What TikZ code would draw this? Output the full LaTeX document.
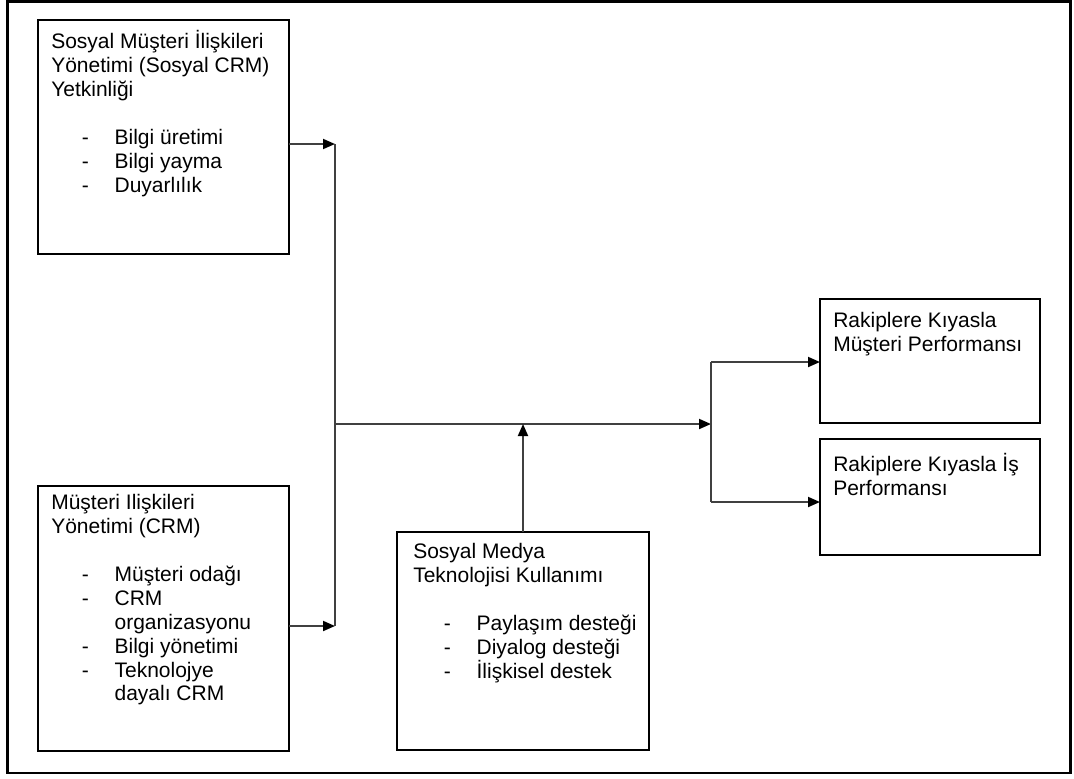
\documentclass[tikz,border=0pt]{standalone}
\usepackage{fontspec}
\setmainfont{Liberation Sans}
\usetikzlibrary{arrows.meta}
% list lines inside the boxes: a dash, then the item text
\newcommand\dashitem[1]{\hspace*{23pt}\makebox[24.5pt][l]{-}#1}
\newcommand\contline[1]{\hspace*{47.5pt}#1}

\begin{document}
\begin{tikzpicture}[x=0.75pt,y=-0.75pt,
  box/.style={draw=black,line width=0.9pt,anchor=north west,inner sep=0pt,outer sep=0pt},
  label/.style={anchor=north west,inner sep=0pt,align=left,
    font=\fontsize{15.75}{17.9}\selectfont},
  link/.style={draw=black!75,line width=1.4pt},
  arr/.style={link,-{Triangle[length=9pt,width=7.5pt,fill=black,color=black]}}]
\useasboundingbox (0,0) rectangle (1074,778);

% outer frame
\draw[line width=1.9pt] (7.5,1.5) rectangle (1070.5,773);

% boxes
\node[box,minimum width=188.25pt,minimum height=175.5pt] (A) at (38,20) {};
\node[box,minimum width=188.25pt,minimum height=198.75pt] (B) at (38,486) {};
\node[box,minimum width=189pt,minimum height=163.5pt] (C) at (397,532) {};
\node[box,minimum width=165pt,minimum height=93pt] (D) at (820,299) {};
\node[box,minimum width=165pt,minimum height=87pt] (E) at (820,439) {};

% box texts
\node[label] (tA) at (51,30.5) {\strut Sosyal Müşteri İlişkileri\\
  Yönetimi (Sosyal CRM)\\
  Yetkinliği\\[17.9pt]
  \dashitem{Bilgi üretimi}\\
  \dashitem{Bilgi yayma}\\
  \dashitem{Duyarlılık}};
\node[label] (tB) at (51,493) {\strut Müşteri Ilişkileri\\
  Yönetimi (CRM)\\[17.9pt]
  \dashitem{Müşteri odağı}\\
  \dashitem{CRM}\\
  \contline{organizasyonu}\\
  \dashitem{Bilgi yönetimi}\\
  \dashitem{Teknolojye}\\
  \contline{dayalı CRM}};
\node[label] (tC) at (413,541.7) {\strut Sosyal Medya\\
  Teknolojisi Kullanımı\\[17.9pt]
  \dashitem{Paylaşım desteği}\\
  \dashitem{Diyalog desteği}\\
  \dashitem{İlişkisel destek}};
\node[label] (tD) at (833,310.7) {\strut Rakiplere Kıyasla\\Müşteri Performansı};
\node[label] (tE) at (833,453) {\strut Rakiplere Kıyasla İş\\Performansı};

% junction points
\coordinate (j1) at (335,144);
\coordinate (j2) at (335,626);
\coordinate (m) at (335,424);
\coordinate (s) at (711,424);
\coordinate (s1) at (711,362);
\coordinate (s2) at (711,502);

% connectors
\draw[arr] (A.east |- j1) -- (j1);
\draw[arr] (B.east |- j2) -- (j2);
\draw[link] (j1) -- (j2);
\draw[arr] (m) -- (s);
\draw[arr] (C.north) -- (C.north |- m);
\draw[link] (s1) -- (s2);
\draw[arr] (s1) -- (D.west |- s1);
\draw[arr] (s2) -- (E.west |- s2);
\end{tikzpicture}
\end{document}
